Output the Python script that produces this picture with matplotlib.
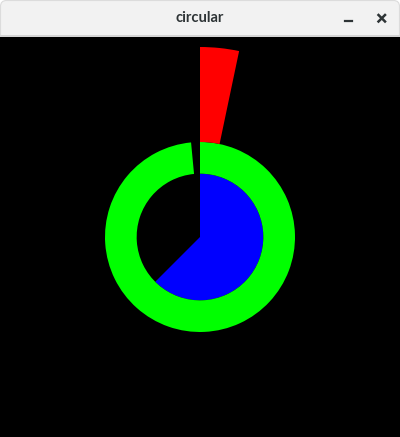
import numpy as np
import matplotlib
matplotlib.use("Agg")
import matplotlib.pyplot as plt
from matplotlib.patches import FancyBboxPatch, Rectangle
from matplotlib.lines import Line2D

# Data: fraction of full circle each series covers, and radial band
labels = ["blue", "green", "red"]
fractions = [0.625, 0.985, 0.033]
bottoms = [0.0, 1.0, 1.5]
heights = [1.0, 0.5, 1.5]
colors = ["#0000ff", "#00ff00", "#ff0000"]
window_title = "circular"

W, H = 400, 437
BAR = 37
fig = plt.figure(figsize=(W / 100, H / 100), dpi=100)
fig.patch.set_facecolor("#ffffff")

# Title bar
tb = fig.add_axes([0, 1 - BAR / H, 1, BAR / H])
tb.set_xlim(0, W)
tb.set_ylim(BAR, 0)
tb.axis("off")
tb.add_patch(FancyBboxPatch((0.5, 0.5), W - 1, BAR + 10, boxstyle="round,pad=0,rounding_size=6",
                            facecolor="#f2f2f2", edgecolor="#dcdcdc", linewidth=0.8))
tb.add_patch(Rectangle((0, BAR - 2), W, 2, facecolor="#d5d5d5", edgecolor="none"))
tb.text(200, 18.5, window_title, ha="center", va="center", fontsize=10.5,
        family="Lato", color="#2e3436", fontweight="bold")
tb.add_line(Line2D([344.5, 351.5], [21, 21], color="#2e3436", linewidth=1.6))
tb.add_line(Line2D([378.5, 385], [15, 21.5], color="#2e3436", linewidth=1.8))
tb.add_line(Line2D([378.5, 385], [21.5, 15], color="#2e3436", linewidth=1.8))

# Polar chart
ax = fig.add_axes([0, 0, 1, (H - BAR) / H], projection="polar")
ax.set_facecolor("black")
ax.set_theta_zero_location("N")
ax.set_theta_direction(-1)
for f, b, h, c in zip(fractions, bottoms, heights, colors):
    ax.bar(0, h, width=2 * np.pi * f, bottom=b, align="edge", color=c, edgecolor="none", linewidth=0)
ax.set_ylim(0, 3 * 200 / 190)
ax.set_xticks([])
ax.set_yticks([])
ax.grid(False)
ax.spines["polar"].set_visible(False)
# make the whole black region
fig.patches.append(Rectangle((0, 0), 1, (H - BAR) / H, transform=fig.transFigure,
                             facecolor="black", edgecolor="none", zorder=-10))

fig.savefig("out.png", dpi=100, facecolor=fig.get_facecolor())
